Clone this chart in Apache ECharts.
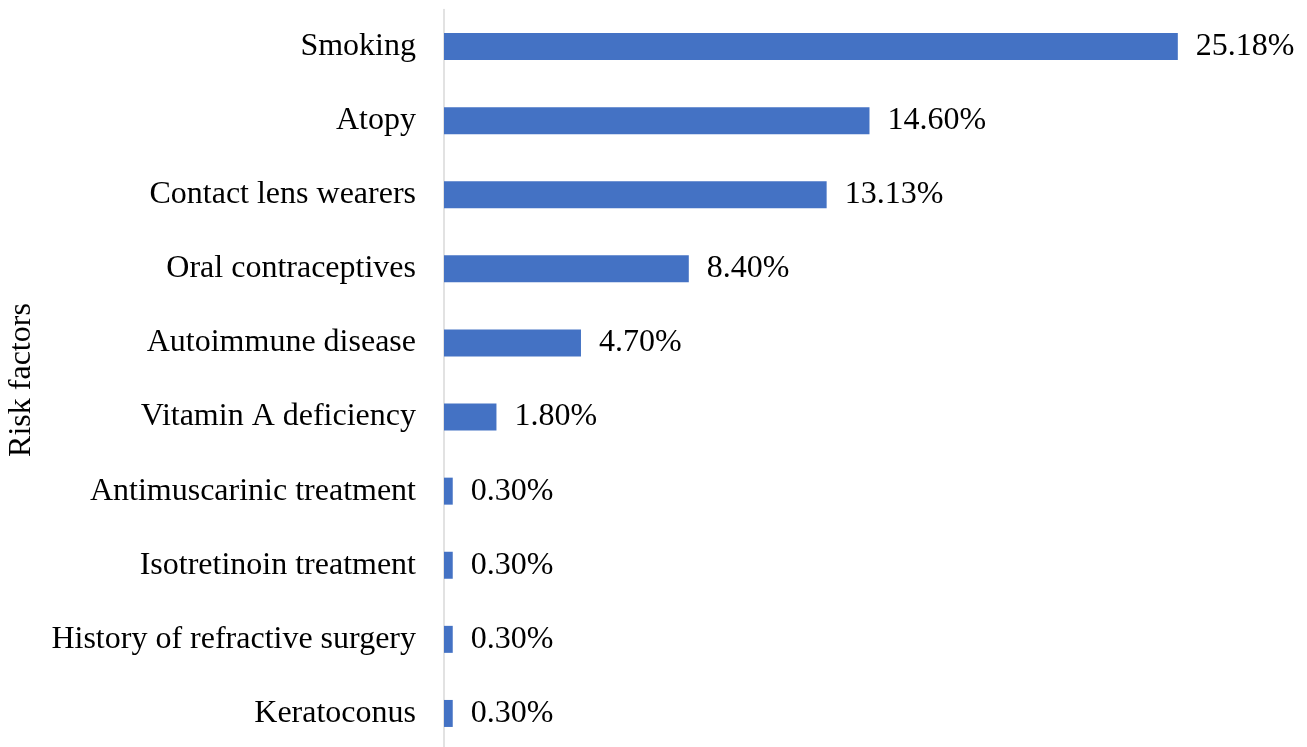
<!DOCTYPE html>
<html>
<head>
<meta charset="utf-8">
<script src="https://cdn.jsdelivr.net/npm/echarts@6/dist/echarts.min.js"></script>
<style>html,body{margin:0;padding:0;background:#fff;}#c{width:1307px;height:747px;}</style>
</head>
<body>
<div id="c"></div>
<script>
const categories = ["Smoking","Atopy","Contact lens wearers","Oral contraceptives","Autoimmune disease","Vitamin A deficiency","Antimuscarinic treatment","Isotretinoin treatment","History of refractive surgery","Keratoconus"];
const values = [25.18,14.60,13.13,8.40,4.70,1.80,0.30,0.30,0.30,0.30];
const axisTitle = "Risk factors";

const font = "'Liberation Serif', 'Times New Roman', serif";
const chart = echarts.init(document.getElementById('c'), null, {renderer:'canvas'});
chart.setOption({
  animation:false,
  backgroundColor:'#fff',
  grid:{left:444, top:9.5, width:816, height:741, containLabel:false, outerBoundsMode:'none'},
  xAxis:{type:'value', min:0, max:28, show:false},
  yAxis:{
    type:'category', data:categories, inverse:true,
    axisLine:{show:true, lineStyle:{color:'#d9d9d9', width:1.5}},
    axisTick:{show:false},
    axisLabel:{color:'#000', fontFamily:font, fontSize:32, margin:28},
    name:axisTitle, nameLocation:'middle', nameGap:406, nameRotate:90,
    nameTextStyle:{color:'#000', fontFamily:font, fontSize:32}
  },
  series:[{
    type:'bar', data:values, barWidth:27,
    itemStyle:{color:'#4472C4'},
    label:{show:true, position:'right', distance:18, color:'#000', fontFamily:font, fontSize:32,
      formatter:p=>p.value.toFixed(2)+'%'}
  }]
});
</script>
</body>
</html>
